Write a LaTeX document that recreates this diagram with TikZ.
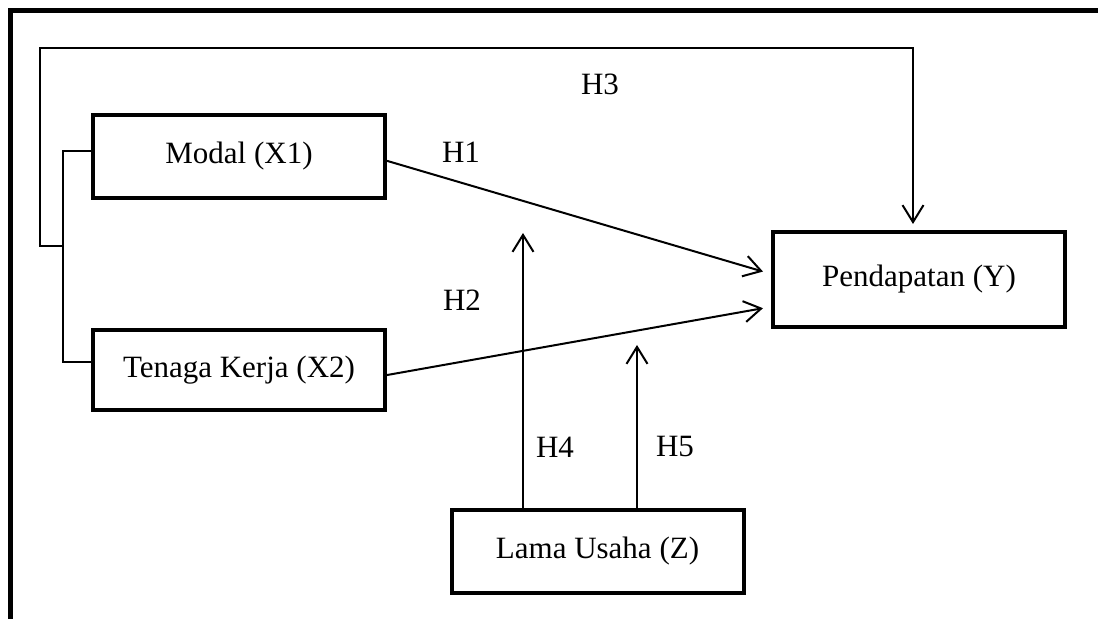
\documentclass[tikz,border=0pt]{standalone}
\usepackage{fontspec}
\setmainfont{Liberation Serif}
\usepackage{tikz}
\usetikzlibrary{arrows.meta,calc}
\tikzset{>={Straight Barb[length=8.5pt,width=10.5pt,line width=1pt]}}

\begin{document}
\begin{tikzpicture}[x=0.5pt,y=-0.5pt]
  \tikzset{
    vbox/.style={rectangle, draw, line width=2pt,
      minimum width=146pt, minimum height=41.5pt,
      align=center, font=\fontsize{15.5}{18}\selectfont},
    hlabel/.style={font=\fontsize{15.5}{18}\selectfont},
    link/.style={line width=1pt}
  }
  \useasboundingbox (0,0) rectangle (1098,619);

  % outer frame
  \draw[line width=2.5pt] (10.5,619) -- (10.5,10.5) -- (1098,10.5);

  \node[vbox] (nX1) at (239,156.5) {Modal (X1)};
  \node[vbox, minimum height=40pt] (nX2) at (239,370) {Tenaga Kerja (X2)};
  \node[vbox, minimum height=47.5pt] (nY) at (919,279.5) {Pendapatan (Y)};
  \node[vbox] (nZ) at (597.5,551.5) {Lama Usaha (Z)};

  % bracket joining X1 and X2, then H3
  \coordinate (b1) at ($(nX1.north west)!0.44!(nX1.south west)$);
  \coordinate (b2) at ($(nX2.north west)!0.40!(nX2.south west)$);
  \draw[link] (b1) -- ++(-28,0) coordinate (bt) |- (b2);
  \coordinate (bm) at ($(bt)!0.45!(bt |- b2)$);
  \draw[link,->] (bm) -- ++(-23,0) |- (913,48) -- ($(nY.north)+(-6,-6)$);

  % H1 and H2
  \draw[link,->] ($(nX1.north east)!0.55!(nX1.south east)$) -- ($(nY.north west)!0.42!(nY.south west)+(-8,0)$);
  \draw[link,->] ($(nX2.north east)!0.56!(nX2.south east)$) -- ($(nY.north west)!0.79!(nY.south west)+(-8,0)$);

  % H4 and H5
  \coordinate (t4) at (523,233);
  \coordinate (t5) at (637,345);
  \draw[link,->] (nZ.north -| t4) -- (t4);
  \draw[link,->] (nZ.north -| t5) -- (t5);

  \node[hlabel] (h1) at (461,152) {H1};
  \node[hlabel] (h2) at (462,300) {H2};
  \node[hlabel] (h3) at (600,84) {H3};
  \node[hlabel] (h4) at (555,447) {H4};
  \node[hlabel] (h5) at (675,447) {H5};
\end{tikzpicture}
\end{document}
